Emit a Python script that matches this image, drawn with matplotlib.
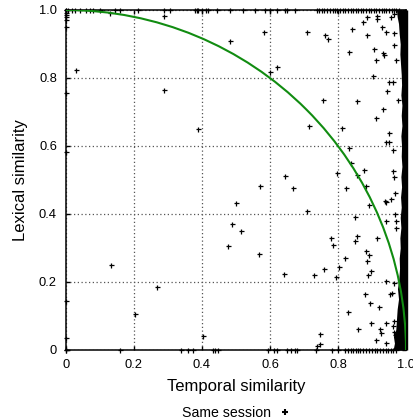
import matplotlib
matplotlib.use("Agg")
import matplotlib.pyplot as plt
from matplotlib.patches import Arc

plt.rcParams['font.family'] = ['Liberation Sans', 'DejaVu Sans']

### scattered pairs (temporal, lexical)
scatter_x = [0.029, 0.289, 0.387, 0.289, 0.131, 0.267, 0.203, 0.402,
             0.482, 0.581, 0.599, 0.622, 0.129,
             0.708, 0.761, 0.771, 0.841, 0.831, 0.874, 0.884, 0.885, 0.914, 0.916,
             0.906, 0.912, 0.928, 0.942, 0.931, 0.936, 0.957, 0.965, 0.965, 0.965,
             0.970, 0.903, 0.950, 0.962, 0.943, 0.755, 0.855, 0.932, 0.977, 0.913,
             0.644, 0.669, 0.572, 0.501, 0.487, 0.514,
             0.476, 0.567, 0.642,
             0.716, 0.811, 0.950, 0.940, 0.950, 0.963, 0.832, 0.839, 0.796, 0.855,
             0.876, 0.825, 0.883, 0.890, 0.937, 0.941, 0.955, 0.969, 0.961, 0.965,
             0.708, 0.849, 0.940, 0.967, 0.972, 0.971,
             0.778, 0.786, 0.857, 0.849, 0.916, 0.822, 0.802, 0.793, 0.758, 0.728,
             0.881, 0.892, 0.884, 0.896, 0.887, 0.942, 0.965, 0.879, 0.895, 0.920,
             0.954, 0.958, 0.829, 0.896, 0.940, 0.859, 0.924, 0.927, 0.913, 0.942,
             0.965, 0.962, 0.965, 0.968, 0.746, 0.748, 0.737]
scatter_y = [0.824, 0.764, 0.649, 0.982, 0.250, 0.185, 0.106, 0.041,
             0.908, 0.936, 0.818, 0.831, 0.990,
             0.935, 0.927, 0.914, 0.943, 0.877, 0.966, 0.978, 0.927, 0.982, 0.974,
             0.886, 0.853, 0.949, 0.935, 0.873, 0.867, 0.978, 0.987, 0.931, 0.896,
             0.853, 0.805, 0.789, 0.787, 0.762, 0.735, 0.732, 0.709, 0.735, 0.681,
             0.511, 0.477, 0.481, 0.432, 0.370, 0.349,
             0.305, 0.281, 0.224,
             0.660, 0.652, 0.639, 0.613, 0.613, 0.587, 0.595, 0.551, 0.522, 0.516,
             0.530, 0.477, 0.481, 0.426, 0.438, 0.434, 0.445, 0.462, 0.527, 0.510,
             0.410, 0.391, 0.379, 0.400, 0.379, 0.358,
             0.329, 0.310, 0.334, 0.320, 0.329, 0.272, 0.245, 0.214, 0.238, 0.221,
             0.292, 0.278, 0.261, 0.231, 0.221, 0.203, 0.197, 0.164, 0.139, 0.126,
             0.165, 0.167, 0.112, 0.080, 0.080, 0.063, 0.063, 0.050, 0.028, 0.022,
             0.085, 0.072, 0.054, 0.044, 0.047, 0.019, 0.013]

### points sitting on lexical = 1
top_x = [0.0, 0.007, 0.017, 0.026, 0.041, 0.059, 0.071, 0.080, 0.100, 0.144, 0.159,
         0.213, 0.289, 0.306, 0.379, 0.384, 0.388, 0.400, 0.412, 0.419, 0.443,
         0.482, 0.522, 0.556, 0.585, 0.600, 0.620, 0.644, 0.649, 0.674,
         0.737, 0.745, 0.752, 0.760, 0.768, 0.776, 0.784, 0.790, 0.798, 0.806,
         0.815, 0.822, 0.830, 0.838, 0.845, 0.852, 0.860, 0.868, 0.875, 0.882,
         0.890, 0.898, 0.905, 0.912, 0.920, 0.928, 0.935, 0.942, 0.950, 0.958,
         0.965, 0.972, 0.980]
### points sitting on lexical = 0
bottom_x = [0.0, 0.159, 0.338, 0.360, 0.375, 0.433, 0.438, 0.448, 0.595, 0.613,
            0.620, 0.649, 0.662, 0.674, 0.680, 0.734, 0.781, 0.800,
            0.820, 0.830, 0.838, 0.845, 0.852, 0.860, 0.866, 0.874, 0.882, 0.890,
            0.900, 0.908, 0.915, 0.924, 0.932, 0.940, 0.948, 0.955, 0.962, 0.970]
### points sitting on temporal = 0
left_y = [1.0, 0.992, 0.985, 0.978, 0.970, 0.951, 0.756, 0.583, 0.144, 0.034, 0.0]

### dense pile of points near temporal = 1 (left edge of the black band)
band_y = [0.00, 0.02, 0.04, 0.06, 0.09, 0.12, 0.15, 0.18, 0.21, 0.24, 0.27, 0.30,
          0.33, 0.36, 0.39, 0.42, 0.45, 0.48, 0.51, 0.54, 0.57, 0.60, 0.63, 0.66,
          0.69, 0.72, 0.75, 0.78, 0.81, 0.84, 0.87, 0.90, 0.93, 0.96, 0.98, 1.00]
band_left = [0.962, 0.966, 0.963, 0.970, 0.972, 0.974, 0.978, 0.975, 0.979, 0.981,
             0.980, 0.983, 0.982, 0.985, 0.983, 0.986, 0.984, 0.987, 0.985, 0.988,
             0.986, 0.987, 0.985, 0.988, 0.986, 0.988, 0.985, 0.987, 0.986, 0.984,
             0.982, 0.983, 0.980, 0.978, 0.974, 0.972]

radius = 1.0

fig = plt.figure(figsize=(4.14, 4.2), dpi=100)
ax = fig.add_axes([66 / 414, 70 / 420, 340 / 414, 340 / 420])

ax.fill_betweenx(band_y, band_left, 1.005, color="black", lw=0, clip_on=False, zorder=3)

mk = dict(marker="+", ls="none", color="black", ms=3.6, mew=0.9, clip_on=False, zorder=4)
ax.plot(scatter_x, scatter_y, **mk)
ax.plot(top_x, [1.0] * len(top_x), **mk)
ax.plot(bottom_x, [0.0] * len(bottom_x), **mk)
ax.plot([0.0] * len(left_y), left_y, **mk)

ax.add_patch(Arc((0, 0), 2 * radius, 2 * radius, theta1=0, theta2=90,
                 color="#118c11", lw=1.5, zorder=5))

ax.set_xlim(0, 1)
ax.set_ylim(0, 1)
ticks = [0, 0.2, 0.4, 0.6, 0.8, 1.0]
labels = ["0", "0.2", "0.4", "0.6", "0.8", "1.0"]
ax.set_xticks(ticks, labels)
ax.set_yticks(ticks, labels)
ax.tick_params(direction="in", length=3, width=1, top=True, right=True,
               labelsize=9.3, pad=6.5)
ax.grid(True, color="#555555", ls=(0, (1, 2)), lw=0.9)
for s in ax.spines.values():
    s.set_linewidth(1.1)

ax.set_xlabel("Temporal similarity", fontsize=12, labelpad=6)
ax.set_ylabel("Lexical similarity", fontsize=12, labelpad=8)

handle = plt.Line2D([], [], marker="+", ls="none", color="black", ms=5, mew=1.5)
fig.legend([handle], ["Same session"], loc="center", bbox_to_anchor=(237 / 414, 1 - 413 / 420),
           frameon=False, markerfirst=False, fontsize=10.2, handletextpad=0.5,
           handlelength=1.0, borderpad=0, borderaxespad=0)

fig.savefig("out.png", dpi=100)
